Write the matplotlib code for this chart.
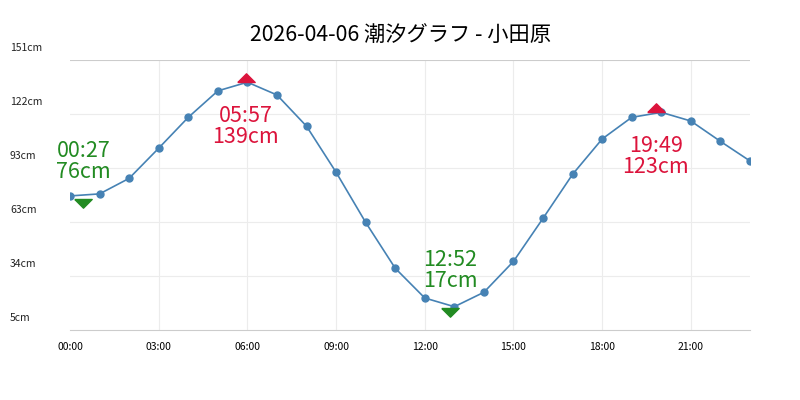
import matplotlib
matplotlib.use('Agg')
import matplotlib.pyplot as plt
from matplotlib.transforms import ScaledTranslation
import numpy as np

plt.rcParams['font.family'] = ['Noto Sans CJK JP', 'DejaVu Sans']

# hourly tide level (cm)
hours = list(range(24))
levels = [77.5, 78.6, 87.0, 103.3, 120.0, 134.3, 139.0, 132.1,
          115.2, 90.3, 63.2, 38.4, 22.3, 17.6, 25.4, 42.1,
          65.4, 89.2, 108.3, 120.0, 122.7, 118.0, 107.0, 96.4]

# high / low tides
high_times = ['05:57', '19:49']
high_levels = [139, 123]
low_times = ['00:27', '12:52']
low_levels = [76, 17]

xtick_labels = ['00:00', '03:00', '06:00', '09:00', '12:00', '15:00', '18:00', '21:00']
ytick_vals = [5, 34.2, 63.4, 92.6, 121.8, 151]

title = '2026-04-06 潮汐グラフ - 小田原'


def to_hour(s):
    h, m = s.split(':')
    return int(h) + int(m) / 60.0


fig = plt.figure(figsize=(8, 4), dpi=100)
ax = fig.add_axes([70 / 800, 70 / 400, 680 / 800, 270 / 400])

ax.plot(hours, levels, color='#4682B4', lw=1.2, marker='o', ms=5, zorder=3)

# markers: base of triangle sits on the tide point
up_tri = [(-1, 0), (1, 0), (0, 1), (-1, 0)]
down_tri = [(-1, 0), (1, 0), (0, -1), (-1, 0)]
hx = [to_hour(t) for t in high_times]
lx = [to_hour(t) for t in low_times]
ax.plot(hx, high_levels, ls='none', marker=up_tri, ms=12.5, color='#DC143C', zorder=4)
ax.plot(lx, low_levels, ls='none', marker=down_tri, ms=12.5, color='#228B22', zorder=4)

for x, v, t in zip(hx, high_levels, high_times):
    ax.annotate(t + '\n' + str(v) + 'cm', (x, v), xytext=(0, -16.5), textcoords='offset points',
                ha='center', va='top', color='#DC143C', fontsize=15.5, linespacing=0.93)
for x, v, t in zip(lx, low_levels, low_times):
    ax.annotate(t + '\n' + str(v) + 'cm', (x, v), xytext=(0, 11.5), textcoords='offset points',
                ha='center', va='bottom', color='#228B22', fontsize=15.5, linespacing=0.93)

ax.set_xlim(0, 23)
ax.set_ylim(5, 151)
ax.set_xticks(range(0, 24, 3))
ax.set_xticklabels(xtick_labels, fontsize=7.5)
ax.tick_params(axis='x', length=0, pad=9)
ax.set_yticks(ytick_vals)
ax.set_yticklabels([])
ax.tick_params(axis='y', length=0)
ax.grid(True, color='#ececec', lw=0.8)
ax.xaxis.get_gridlines()[0].set_visible(False)
ax.yaxis.get_gridlines()[-1].set_color('#cccccc')
ax.yaxis.get_gridlines()[0].set_visible(False)

for s in ['left', 'right', 'top']:
    ax.spines[s].set_visible(False)
ax.spines['bottom'].set_color('#cccccc')

# y labels sit above their gridlines
off = ScaledTranslation(0, 12 / 100, fig.dpi_scale_trans)
for v in ytick_vals:
    ax.text(-60 / 680, v, '%dcm' % round(v), transform=ax.get_yaxis_transform() + off,
            ha='left', va='center', fontsize=7.5, color='#222222')

fig.suptitle(title, x=0.5, y=0.94, fontsize=15.3)

plt.savefig('out.png', dpi=100)
